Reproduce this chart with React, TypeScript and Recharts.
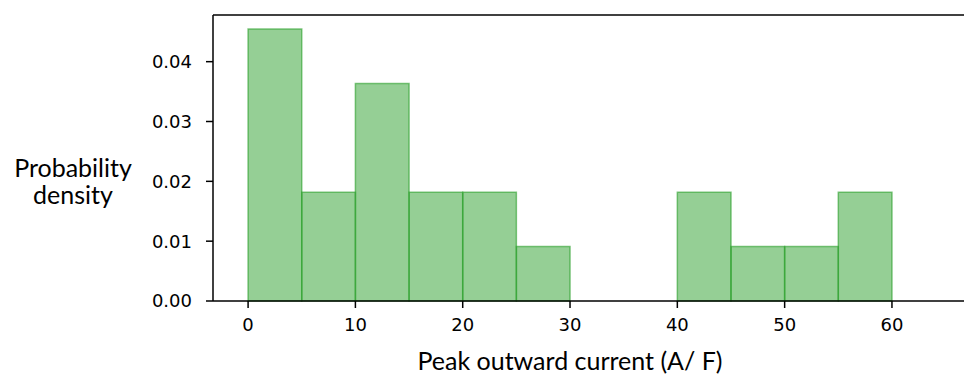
import React from "react";
import {
  ComposedChart,
  XAxis,
  YAxis,
  Line,
  ReferenceArea,
  ReferenceLine,
} from "recharts";

// Histogram bins of peak outward current (A/F), width 5
const binStarts = [0, 5, 10, 15, 20, 25, 30, 35, 40, 45, 50, 55];
const binWidth = 5;
// Probability density per bin (counts / (N * width), N = 22)
const densities = [
  0.04545, 0.01818, 0.03636, 0.01818, 0.01818, 0.00909, 0, 0, 0.01818,
  0.00909, 0.00909, 0.01818,
];
const xTicks = [0, 10, 20, 30, 40, 50, 60];
const yTicks = [0, 0.01, 0.02, 0.03, 0.04];
const xDomain: [number, number] = [-3.27, 66.9];
const yMax = 0.0478;

const data = binStarts.map((s, i) => ({
  x: s + binWidth / 2,
  density: densities[i],
}));

const FILL = "#2ca02c";
const tickStyle = {
  fontFamily: "DejaVu Sans",
  fontSize: 18,
  fill: "#000",
};
const labelFont = "Lato";
const labelSize = 25;

const YLabel = () => {
  const cx = 73;
  return (
    <g>
      <text
        x={cx}
        y={177}
        textAnchor="middle"
        fontFamily={labelFont}
        fontSize={labelSize}
        fill="#000"
      >
        Probability
      </text>
      <text
        x={cx}
        y={204}
        textAnchor="middle"
        fontFamily={labelFont}
        fontSize={labelSize}
        fill="#000"
      >
        density
      </text>
    </g>
  );
};

const XLabel = () => (
  <text
    x={570}
    y={370}
    textAnchor="middle"
    fontFamily={labelFont}
    fontSize={labelSize}
    fill="#000"
  >
    Peak outward current (A/ F)
  </text>
);

export default function App() {
  return (
    <div style={{ position: "absolute", left: 0, top: 0 }}>
      <ComposedChart
        width={966}
        height={377}
        data={data}
        margin={{ top: 15, right: 0, bottom: 0, left: 0 }}
      >
        <XAxis
          dataKey="x"
          type="number"
          domain={xDomain}
          ticks={xTicks}
          allowDataOverflow
          tickSize={7}
          tickMargin={10}
          tick={tickStyle}
          stroke="#000"
          strokeWidth={1.5}
          tickLine={{ stroke: "#000", strokeWidth: 1.5 }}
          height={76}
          label={<XLabel />}
        />
        <YAxis
          type="number"
          domain={[0, yMax]}
          ticks={yTicks}
          allowDataOverflow
          tickFormatter={(v: number) => v.toFixed(2)}
          tickSize={7}
          tickMargin={14}
          tick={tickStyle}
          stroke="#000"
          strokeWidth={1.5}
          tickLine={{ stroke: "#000", strokeWidth: 1.5 }}
          width={213}
          label={<YLabel />}
        />
        <Line
          dataKey="density"
          stroke="none"
          dot={false}
          activeDot={false}
          isAnimationActive={false}
        />
        {binStarts.map((s, i) =>
          densities[i] > 0 ? (
            <ReferenceArea
              key={s}
              x1={s}
              x2={s + binWidth}
              y1={0}
              y2={densities[i]}
              fill={FILL}
              fillOpacity={0.5}
              stroke={FILL}
              strokeOpacity={0.6}
              strokeWidth={1.5}
            />
          ) : null
        )}
        {/* top spine */}
        <ReferenceLine
          y={yMax}
          stroke="#000"
          strokeWidth={1.5}
          ifOverflow="visible"
        />
      </ComposedChart>
    </div>
  );
}
